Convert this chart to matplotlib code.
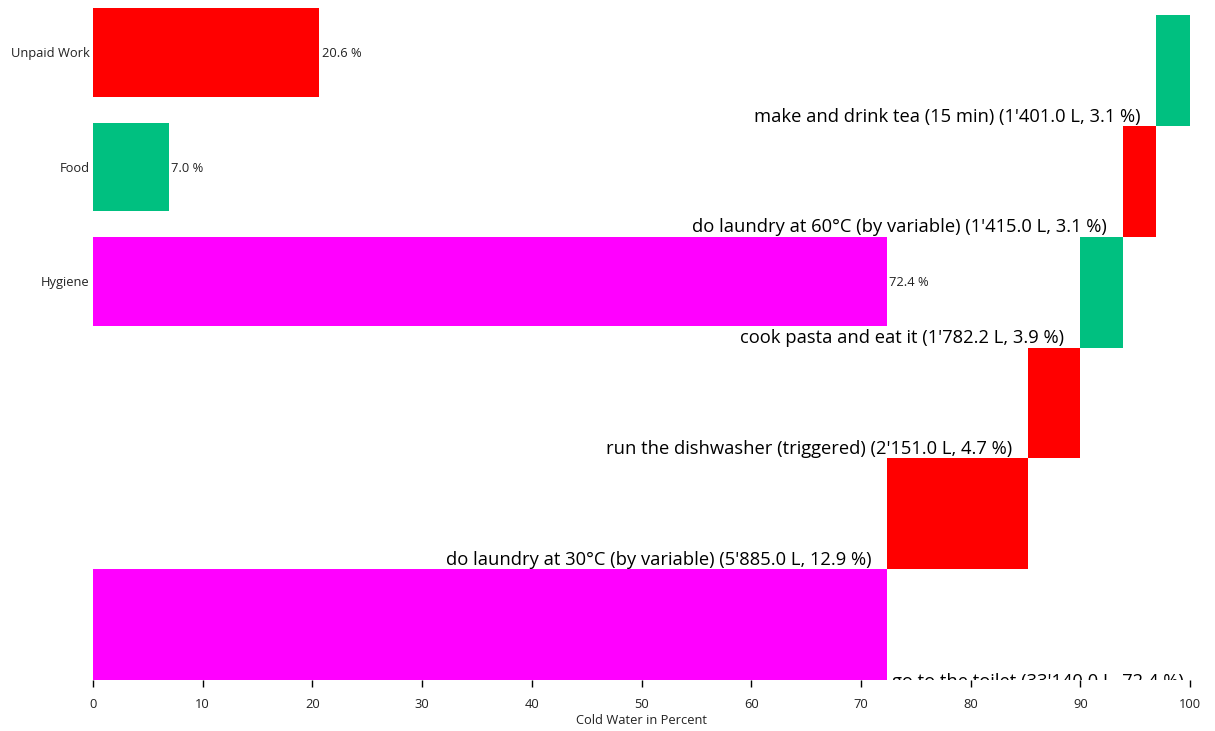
"""Cold water usage: category totals and a waterfall of the activities."""

import matplotlib
matplotlib.use('Agg')

import numpy as np
import matplotlib.pyplot as plt

# activities in waterfall order (bottom to top) and their litres
activities = [
    "go to the toilet",
    "do laundry at 30°C (by variable)",
    "run the dishwasher (triggered)",
    "cook pasta and eat it",
    "do laundry at 60°C (by variable)",
    "make and drink tea (15 min)",
]
litres = [33140.0, 5885.0, 2151.0, 1782.2, 1415.0, 1401.0]
activity_cat = ["Hygiene", "Unpaid Work", "Unpaid Work", "Food", "Unpaid Work", "Food"]

categories = ["Unpaid Work", "Food", "Hygiene"]
cat_colors = {"Unpaid Work": "#ff0000", "Food": "#00c080", "Hygiene": "#ff00ff"}

x_ticks = [0, 10, 20, 30, 40, 50, 60, 70, 80, 90, 100]
x_label = "Cold Water in Percent"

plt.rcParams['font.family'] = ['Open Sans', 'DejaVu Sans']

W, H, DPI = 1215, 731, 100
fig = plt.figure(figsize=(W / DPI, H / DPI), dpi=DPI)
ax = fig.add_axes([93 / W, 1 - 680 / H, (1190 - 93) / W, 680 / H])

# y axis works in pixel units from the top of the figure
ax.set_xlim(0, 100)
ax.set_ylim(680, 0)

total = sum(litres)
pct = [l / total * 100 for l in litres]
starts = np.concatenate([[0], np.cumsum(pct)[:-1]])

# waterfall bands, stacked upward from the bottom
wf_top, wf_bottom = 15, 680
n = len(activities)
step = (wf_bottom - wf_top) / n
for i, (name, l, p, s, c) in enumerate(zip(activities, litres, pct, starts, activity_cat)):
    y0 = wf_bottom - (i + 1) * step
    ax.barh(y0, p, left=s, height=step, align='edge', color=cat_colors[c], linewidth=0)
    amount = f"{l:,.1f}".replace(",", "'")
    label = f"{name} ({amount} L, {p:.1f} %)"
    if s > 0:
        ax.annotate(label, (s, y0 + step), xytext=(-11.5, 3.0), textcoords='offset points',
                    ha='right', va='baseline', fontsize=13.2, color='black')
    else:
        ax.annotate(label, (s + p, y0 + step), xytext=(3.5, -5.0), textcoords='offset points',
                    ha='left', va='baseline', fontsize=13.2, color='black',
                    annotation_clip=False, clip_on=True)

# category bars in the upper half
cat_pct = [sum(p for p, c in zip(pct, activity_cat) if c == k) for k in categories]
cat_step, cat_h, cat_top = 114.5, 88.5, 8
for i, (k, v) in enumerate(zip(categories, cat_pct)):
    y0 = cat_top + i * cat_step
    ax.barh(y0, v, left=0, height=cat_h, align='edge', color=cat_colors[k], linewidth=0)
    ax.annotate(f"{v:.1f} %", (v, y0 + cat_h / 2), xytext=(1.5, 0), textcoords='offset points',
                ha='left', va='center_baseline', fontsize=9.3, color='#222222')
    ax.annotate(k, (0, y0 + cat_h / 2), xytext=(-2.5, 0), textcoords='offset points',
                ha='right', va='center_baseline', fontsize=9.3, color='#222222',
                annotation_clip=False)

for side in ['top', 'right', 'left', 'bottom']:
    ax.spines[side].set_visible(False)
ax.set_yticks([])
ax.set_xticks(x_ticks)
ax.tick_params(axis='x', length=5, width=1, color='black', labelsize=9.3,
               labelcolor='#222222', pad=8)
ax.set_xlabel(x_label, fontsize=9.3, color='#222222', labelpad=2)

fig.savefig("out.png", dpi=DPI)
